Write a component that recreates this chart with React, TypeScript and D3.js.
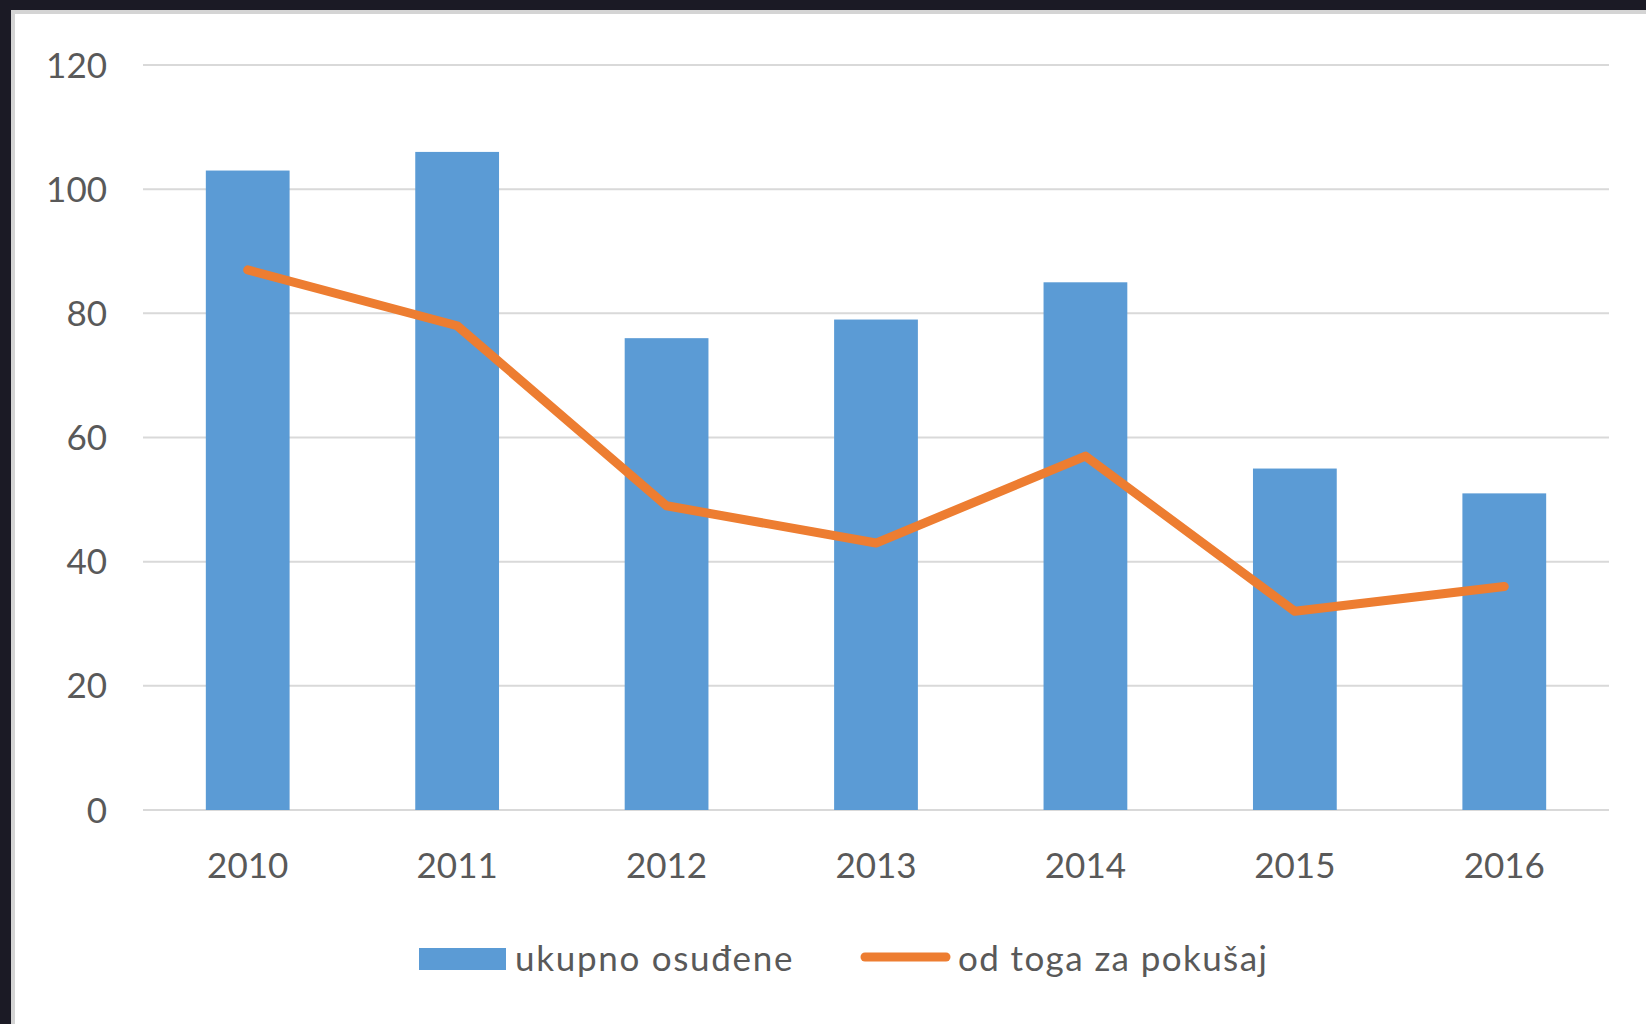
import React, { useEffect } from 'react';
import * as d3 from 'd3';

const years = ['2010', '2011', '2012', '2013', '2014', '2015', '2016'];
const ukupnoOsudjene = [103, 106, 76, 79, 85, 55, 51];
const odTogaZaPokusaj = [87, 78, 49, 43, 57, 32, 36];
const yTicks = [0, 20, 40, 60, 80, 100, 120];
const seriesNames = ['ukupno osuđene', 'od toga za pokušaj'];

const W = 1646;
const H = 1024;
const FONT = 'Lato, "Open Sans", sans-serif';
const TEXT = '#595959';

const App = () => {
  useEffect(() => {
    document.body.style.margin = '0';
    document.body.style.overflow = 'hidden';
  }, []);

  const x = d3
    .scaleBand()
    .domain(years)
    .range([143, 1609])
    .paddingInner(0.6)
    .paddingOuter(0.3);

  const y = d3.scaleLinear().domain([0, 120]).range([810, 65]);

  const cx = (d) => x(d) + x.bandwidth() / 2;

  const line = d3
    .line()
    .x((d, i) => cx(years[i]))
    .y((d) => y(d));

  return (
    <svg width={W} height={H} style={{ display: 'block' }}>
      {/* dark backdrop + panel */}
      <rect x={0} y={0} width={W} height={H} fill="#1b1a25" />
      <rect x={11} y={10} width={W - 11} height={H - 10} fill="#d4d4d4" />
      <rect x={15} y={14} width={W - 15} height={H - 14} fill="#ffffff" />

      {/* gridlines */}
      {yTicks.map((t) => (
        <line
          key={t}
          x1={143}
          x2={1609}
          y1={y(t)}
          y2={y(t)}
          stroke="#d9d9d9"
          strokeWidth={2}
        />
      ))}

      {/* y tick labels */}
      {yTicks.map((t) => (
        <text
          key={'yl' + t}
          x={107}
          y={y(t)}
          dy="0.36em"
          textAnchor="end"
          fontFamily={FONT}
          fontSize={35}
          fill={TEXT}
        >
          {t}
        </text>
      ))}

      {/* bars */}
      {ukupnoOsudjene.map((v, i) => (
        <rect
          key={'b' + i}
          x={x(years[i])}
          y={y(v)}
          width={x.bandwidth()}
          height={y(0) - y(v)}
          fill="#5b9bd5"
        />
      ))}

      {/* line */}
      <path
        d={line(odTogaZaPokusaj)}
        fill="none"
        stroke="#ed7d31"
        strokeWidth={9}
        strokeLinecap="round"
        strokeLinejoin="round"
      />

      {/* x labels */}
      {years.map((yr) => (
        <text
          key={'xl' + yr}
          x={cx(yr)}
          y={878}
          textAnchor="middle"
          fontFamily={FONT}
          fontSize={35}
          fill={TEXT}
        >
          {yr}
        </text>
      ))}

      {/* legend */}
      <rect x={419} y={948} width={87} height={22} fill="#5b9bd5" />
      <text
        x={515}
        y={971}
        fontFamily={FONT}
        fontSize={35}
        letterSpacing={1.7}
        fill={TEXT}
      >
        {seriesNames[0]}
      </text>
      <line
        x1={865}
        x2={946}
        y1={957}
        y2={957}
        stroke="#ed7d31"
        strokeWidth={9}
        strokeLinecap="round"
      />
      <text
        x={958}
        y={971}
        fontFamily={FONT}
        fontSize={35}
        letterSpacing={1.4}
        fill={TEXT}
      >
        {seriesNames[1]}
      </text>
    </svg>
  );
};

export default App;
